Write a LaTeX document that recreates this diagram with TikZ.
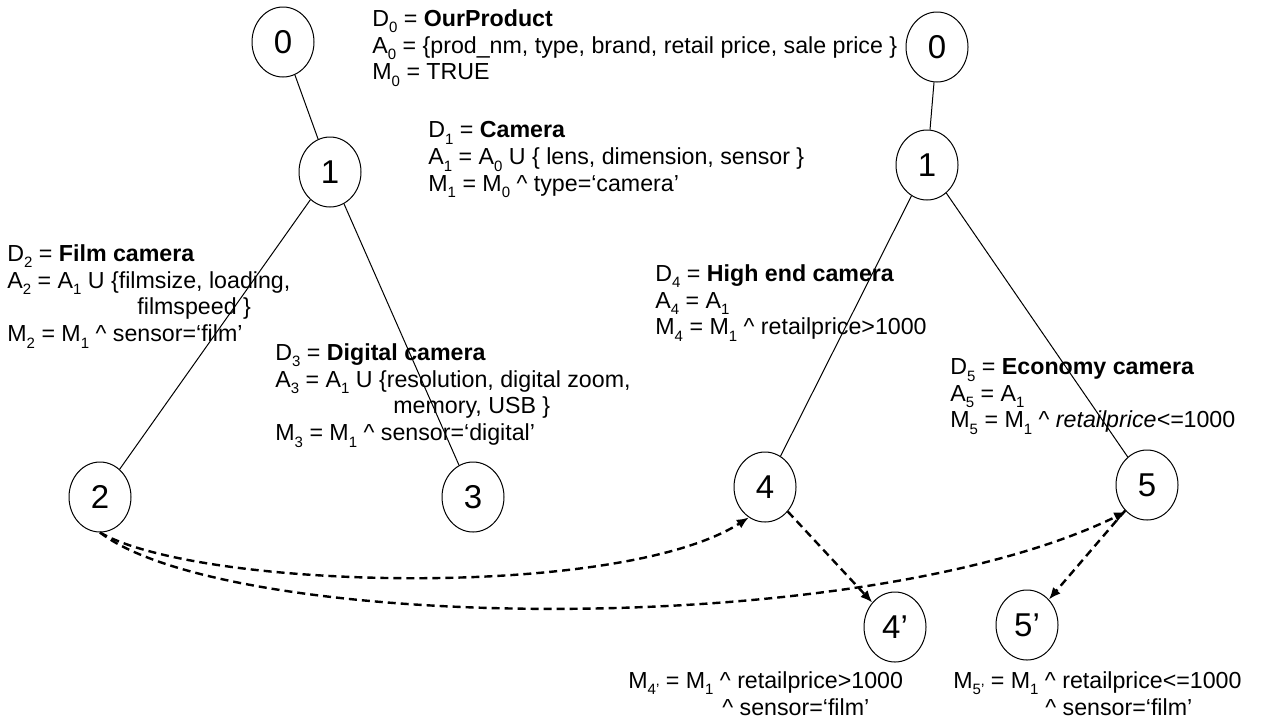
\documentclass[tikz,border=0pt]{standalone}
\usepackage{fontspec}
\setmainfont{Liberation Sans}
\usetikzlibrary{shapes.geometric,arrows.meta}
% small lowered index digit
\newcommand\ix[1]{\raisebox{-0.55ex}{\fontsize{7.5}{7.5}\selectfont #1}}
\newcommand\wedgec{\textasciicircum}
\begin{document}
\begin{tikzpicture}[x=0.5pt,y=-0.5pt,
  cls/.style={draw,line width=0.5pt,ellipse,minimum width=31pt,minimum height=35pt,inner sep=0pt,font=\fontsize{16.5}{16.5}\selectfont},
  info/.style={anchor=north west,align=left,inner sep=0pt,font=\fontsize{11.6}{13.4}\selectfont},
  tree/.style={line width=0.5pt},
  link/.style={dashed,line width=1.2pt,dash pattern=on 4pt off 2.5pt,-{Latex[length=6pt,width=5pt]}}]
\useasboundingbox (0,0) rectangle (1267,724);

% class nodes
\node[cls] (l0) at (283,42) {0};
\node[cls] (l1) at (330,172) {1};
\node[cls] (n2) at (100,497) {2};
\node[cls] (n3) at (473,497) {3};
\node[cls] (r0) at (937,47) {0};
\node[cls] (r1) at (927,165) {1};
\node[cls] (n4) at (765,487) {4};
\node[cls] (n5) at (1147,485) {5};
\node[cls] (n4p) at (895,627) {4’};
\node[cls] (n5p) at (1027,625) {5’};

% hierarchy edges
\draw[tree] (l0) -- (l1);
\draw[tree] (l1) -- (n2);
\draw[tree] (l1) -- (n3);
\draw[tree] (r0) -- (r1);
\draw[tree] (r1) -- (n4);
\draw[tree] (r1) -- (n5);

% mapping links
\draw[link] (n2.south) .. controls (200,590) and (620,600) .. (n4.-118);
\draw[link] (n2.south) .. controls (230,632) and (860,642) .. (n5.-128);
\draw[link] (n4) -- (n4p);
\draw[link] (n5) -- (n5p);

% class descriptions
\node[info] (t0) at (372,9) {D\ix0 = \textbf{OurProduct}\\
A\ix0 = \{prod\_nm, type, brand, retail price, sale price \}\\
M\ix0 = TRUE};
\node[info] (t1) at (428,121) {D\ix1 = \textbf{Camera}\\
A\ix1 = A\ix0 U \{ lens, dimension, sensor \}\\
M\ix1 = M\ix0 \wedgec{} type=‘camera’};
\node[info] (t2) at (7,244) {D\ix2 = \textbf{Film camera}\\
A\ix2 = A\ix1 U \{filmsize, loading,\\
\hspace{65pt}filmspeed \}\\
M\ix2 = M\ix1 \wedgec{} sensor=‘film’};
\node[info] (t3) at (275,343) {D\ix3 = \textbf{Digital camera}\\
A\ix3 = A\ix1 U \{resolution, digital zoom,\\
\hspace{59pt}memory, USB \}\\
M\ix3 = M\ix1 \wedgec{} sensor=‘digital’};
\node[info] (t4) at (655,264) {D\ix4 = \textbf{High end camera}\\
A\ix4 = A\ix1\\
M\ix4 = M\ix1 \wedgec{} retailprice>1000};
\node[info] (t5) at (950,358) {D\ix5 = \textbf{Economy camera}\\
A\ix5 = A\ix1\\
M\ix5 = M\ix1 \wedgec{} \textit{retailprice<=}1000};
\node[info] (t4p) at (628,671) {M\ix{4’} = M\ix1 \wedgec{} retailprice>1000\\
\hspace{47pt}\wedgec{} sensor=‘film’};
\node[info] (t5p) at (953,671) {M\ix{5’} = M\ix1 \wedgec{} retailprice<=1000\\
\hspace{46pt}\wedgec{} sensor=‘film’};
\end{tikzpicture}
\end{document}
